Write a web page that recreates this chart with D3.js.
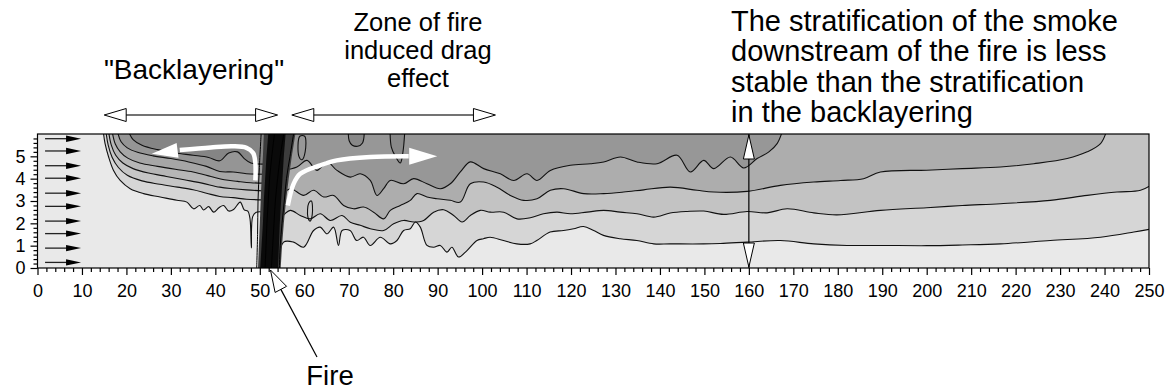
<!DOCTYPE html>
<html>
<head>
<meta charset="utf-8">
<script src="https://cdn.jsdelivr.net/npm/d3@7"></script>
<style>
  body { margin: 0; background: #fff; }
  svg text { font-family: "Liberation Sans", Arial, sans-serif; fill: #000; }
</style>
</head>
<body>
<div id="chart"></div>
<script>
// ---- data (x = distance, y = height) ----

// inflow arrows on the left (heights)
const inflowY = [0.25, 0.89, 1.54, 2.10, 2.76, 3.35, 4.02, 4.58, 5.24, 5.79];

// backlayering contours, outer to inner
const l1 = [[14.8,6.1],[15.2,5.57],[16.0,4.97],[17.1,4.37],[18.6,3.92],[20.85,3.55],[23.85,3.33],[27.6,3.18],[31.35,3.03],[33.6,2.95],[35.1,2.65],[36.5,2.8],[37.35,2.6],[38.5,2.75],[39.6,2.5],[40.8,2.7],[41.85,2.8],[43,2.55],[44.1,2.62],[45.6,2.95],[46.5,2.6],[47.3,2.55],[47.8,2.2],[48.1,0.9],[48.4,2.3],[49.2,2.5],[51,2.5]];
const l2 = [[15.4,6.1],[15.9,5.5],[16.8,4.95],[18.2,4.5],[20.2,4.15],[23.5,3.9],[27.5,3.75],[31.5,3.62],[35,3.5],[38,3.35],[41,3.2],[44,3.15],[47,3.08],[51,3.05]];
const l3 = [[16.0,6.1],[16.6,5.5],[17.6,5.05],[19.2,4.7],[21.5,4.45],[25,4.25],[29,4.1],[33,3.95],[37,3.8],[41,3.62],[44,3.55],[47,3.5],[51,3.45]];
const l4 = [[16.8,6.1],[17.5,5.55],[18.6,5.2],[20.3,4.92],[23,4.7],[27,4.55],[31,4.42],[35,4.3],[39,4.1],[42,3.95],[45,3.88],[48,3.82],[51,3.8]];
const l5 = [[18,6.1],[18.8,5.65],[20.2,5.38],[22.5,5.18],[26,5.02],[30,4.9],[34,4.75],[38,4.55],[41,4.32],[44,4.3],[47,4.22],[51,4.2]];
const l6 = [[20.5,6.1],[21.5,5.75],[23.5,5.5],[27,5.3],[31,5.15],[35,5.05],[38.5,4.95],[41,4.8],[43,5.15],[45,5.2],[46.5,4.9],[48,4.7],[51,4.65]];

// downstream contours, bottom to top
const b1 = [[54.2,0.19],[55.35,1.16],[57.6,1.16],[59.85,0.93],[62.1,1.68],[63.6,1.83],[65.1,1.53],[66.6,1.83],[67.7,1.01],[68.5,1.68],[70.3,1.68],[71.8,1.23],[73.3,1.38],[74.85,1.01],[77.1,1.38],[79.35,1.08],[80.85,1.23],[82.35,1.68],[83.85,1.76],[85.0,2.06],[86.1,1.83],[87.6,1.01],[89.1,0.93],[90.6,1.01],[92.1,0.71],[93.2,0.93],[94.7,0.49],[96.6,0.78],[98.85,1.23],[100.3,1.31],[101.8,1.38],[104.8,1.23],[107.8,1.08],[110.8,1.08],[112.3,1.23],[115.3,1.61],[118.3,1.68],[120.6,1.76],[122.8,1.86],[125.1,1.68],[127.3,1.46],[131.1,1.31],[134.8,1.23],[138.6,1.08],[142.3,1.08],[149.8,1.08],[153.6,1.1],[159.6,1.16],[167.1,1.23],[174.6,1.08],[182.1,1.01],[189.6,1.01],[200,1.0],[208,1.03],[216.6,1.08],[227.8,1.23],[239.1,1.38],[246.6,1.61],[250.5,1.75]];
const b2 = [[54.6,2.2],[56.85,2.58],[59.1,2.35],[61.35,2.2],[63.6,2.43],[65.85,2.13],[68.5,2.35],[70.35,2.05],[72.6,1.91],[74.85,1.76],[77.85,1.68],[80.1,1.98],[82.35,2.13],[84.6,2.06],[86.85,2.13],[89.1,2.5],[91.35,2.61],[93.6,2.35],[95.5,2.06],[97.35,2.35],[99.6,2.58],[101.85,2.5],[104.85,2.5],[107.85,2.2],[110.85,2.25],[113.8,2.43],[116.85,2.5],[119.85,2.43],[123.6,2.5],[127.35,2.58],[131.1,2.5],[134.85,2.43],[138.6,2.28],[142.3,2.46],[146.1,2.53],[149.85,2.55],[154.3,2.4],[159.6,2.53],[164.1,2.47],[168.6,2.65],[174.6,2.47],[179.8,2.38],[189.6,2.58],[200,2.7],[208,2.8],[216.6,2.88],[227.8,3.03],[236.1,3.25],[242.8,3.4],[248.1,3.48],[250.5,3.72]];
const b3 = [[54.6,3.18],[56.85,3.55],[59.85,3.25],[62.1,3.48],[64.35,3.18],[66.6,3.25],[68.85,2.8],[71.1,2.65],[73.35,2.73],[75.6,2.5],[77.85,2.2],[79.35,2.58],[81.6,2.8],[83.85,3.03],[85.35,3.33],[87.6,3.18],[89.85,3.1],[92.85,3.03],[95.1,2.95],[97.35,3.77],[100.35,3.85],[103.35,3.62],[106.35,3.25],[109.35,3.03],[112.35,3.1],[115.35,3.48],[118.35,3.55],[122.85,3.33],[127.35,3.33],[131.85,3.4],[136.35,3.5],[142.35,3.62],[148.35,3.48],[152.1,3.4],[159.6,3.43],[167.1,3.7],[174.6,3.85],[180.6,3.92],[185.8,4.0],[189.6,4.3],[200,4.38],[208,4.45],[216.6,4.52],[224.1,4.67],[231.6,4.9],[236.1,5.2],[239.1,5.57],[240.4,6.1]];
const b4 = [[55.35,4.37],[58.35,4.52],[60.6,4.82],[62.85,4.37],[65.1,4.75],[67.35,4.37],[70.35,4.07],[72.6,4.22],[74.85,3.92],[76.35,3.25],[77.85,3.55],[79.35,3.92],[82.35,3.77],[84.6,4.0],[87.6,3.77],[90.6,3.55],[92.85,3.77],[95.1,4.3],[97.35,4.75],[100.35,4.45],[104.1,4.22],[107.1,3.92],[110.1,4.22],[112.35,3.92],[115.35,4.37],[119.85,4.6],[124.35,4.67],[127.35,4.75],[131.1,4.97],[134.85,4.75],[139.35,4.67],[143.85,5.05],[146.85,4.3],[149.85,4.82],[152.1,4.45],[155.85,4.97],[158.85,4.48],[161.85,4.9],[164.5,5.2],[166.35,5.57],[167.5,6.1]];

// small darker pockets hanging from the ceiling
const pocket1 = [[69.9,6.1],[70.1,5.7],[70.8,5.5],[72,5.45],[73.1,5.6],[73.5,6.1]];
const pocket2 = [[79.3,6.1],[79.6,5.4],[80.5,5.0],[81.6,4.7],[82.2,5.2],[82.6,6.1]];
// small closed contours next to the plume
const loop1 = [[58.8,5.0],[59.5,4.85],[60.2,5.2],[60.1,5.9],[59.0,5.9]];
const loop2 = [[60.8,2.3],[61.3,2.1],[61.8,2.4],[61.6,3.0],[61.0,2.9]];

// fire plume edges and strands
const plumeLeft = [[49.6,0],[49.8,1],[50,2],[50.2,3],[50.4,4],[50.7,5],[50.9,6]];
const plumeRight = [[54.7,0],[55,1],[55.4,2],[55.9,3],[56.5,4],[57.2,5],[58,6]];
const coreLeft = [[50.1,0],[50.4,1],[50.7,2],[50.9,3],[51.2,4],[51.5,5],[51.9,6]];
const coreRight = [[54.1,0],[54.3,1],[54.5,2],[54.8,3],[55.1,4],[55.4,5],[55.8,6]];
const strands = [
  [[49.3,0],[49.5,1.5],[49.6,3],[49.9,4.5],[50.3,6]],
  [[51.2,0],[51.4,1],[51.6,2],[51.9,3],[52.2,4],[52.7,5],[53.3,6]],
  [[52.6,0],[52.9,1],[53.2,2],[53.5,3],[54,4],[54.6,5],[55.4,6]],
  [[54.4,0],[54.6,1],[55,2],[55.5,3],[56,4],[56.8,5],[57.6,6]]
];

// white flow arrows
const backFlow = [[49,3.92],[49,4.7],[48.5,5.15],[47,5.38],[44,5.45],[39,5.4],[32,5.28]];
const backFlowTip = [25.7,5.12];
const downFlow = [[56.3,2.8],[57.6,3.77],[59.1,4.22],[63.6,4.6],[67.3,4.82],[74.85,4.97],[83.5,5.0]];
const downFlowTip = [89.9,5.0];

// annotation spans (x)
const backSpan = [15, 54];
const dragSpan = [57.2, 103];
const stratX = 160;
const fireX = 52.4;

const xMajor = d3.range(0, 251, 10);
const xMinor = d3.range(0, 251, 2).filter(v => v % 10 !== 0);
const yMajor = [0, 1, 2, 3, 4, 5];
const yMinor = d3.range(0, 30).map(i => i / 5).filter(v => v % 1 !== 0);

// ---- drawing ----
const W = 1170, H = 390;
const svg = d3.select("#chart").append("svg").attr("width", W).attr("height", H);

const x = d3.scaleLinear().domain([0, 250]).range([37.5, 1149]);
const y = d3.scaleLinear().domain([0, 6]).range([268, 134]);

svg.append("defs").append("clipPath").attr("id", "clip")
  .append("rect")
  .attr("x", x(0)).attr("y", y(6))
  .attr("width", x(250) - x(0)).attr("height", y(0) - y(6));

const plot = svg.append("g").attr("clip-path", "url(#clip)");

plot.append("rect")
  .attr("x", x(0)).attr("y", y(6))
  .attr("width", x(250) - x(0)).attr("height", y(0) - y(6))
  .attr("fill", "#e9e9e9");

const above = d3.area()
  .x(d => x(d[0])).y0(y(6.3)).y1(d => y(d[1]))
  .curve(d3.curveCatmullRom);
const line = d3.line()
  .x(d => x(d[0])).y(d => y(d[1]))
  .curve(d3.curveCatmullRom);
const closed = d3.line()
  .x(d => x(d[0])).y(d => y(d[1]))
  .curve(d3.curveCatmullRomClosed);

const backLines = [l1, l2, l3, l4, l5, l6];
const backFills = ["#d6d6d6", "#c6c6c6", "#b6b6b6", "#a6a6a6", "#959595", "#858585"];
const downLines = [b1, b2, b3, b4];
const downFills = ["#d6d6d6", "#c3c3c3", "#adadad", "#979797"];

backLines.forEach((c, i) => plot.append("path").attr("d", above(c)).attr("fill", backFills[i]));
downLines.forEach((c, i) => plot.append("path").attr("d", above(c)).attr("fill", downFills[i]));
[pocket1, pocket2].forEach(c => plot.append("path").attr("d", above(c)).attr("fill", "#888"));
plot.append("path").attr("d", closed(loop2)).attr("fill", "#c9c9c9");

[...backLines, ...downLines, pocket1, pocket2].forEach(c =>
  plot.append("path").attr("d", line(c))
    .attr("fill", "none").attr("stroke", "#111").attr("stroke-width", 1.1));
[loop1, loop2].forEach(c =>
  plot.append("path").attr("d", closed(c))
    .attr("fill", "none").attr("stroke", "#111").attr("stroke-width", 1.1));

// plume
const band = (l, r) => {
  const pts = l.concat(r.slice().reverse());
  return d3.line().x(d => x(d[0])).y(d => y(d[1])).curve(d3.curveLinearClosed)(pts);
};
plot.append("path").attr("d", band(plumeLeft, plumeRight)).attr("fill", "#3c3c3c");
plot.append("path").attr("d", band(coreLeft, coreRight)).attr("fill", "#0a0a0a");
strands.forEach(s => plot.append("path").attr("d", line(s))
  .attr("fill", "none").attr("stroke", "#000").attr("stroke-width", 1));

// arrowhead helper (pixel coords)
function head(g, tip, from, len, half, fill, stroke) {
  const dx = tip[0] - from[0], dy = tip[1] - from[1];
  const d = Math.hypot(dx, dy), ux = dx / d, uy = dy / d;
  const bx = tip[0] - ux * len, by = tip[1] - uy * len;
  const pts = [tip, [bx - uy * half, by + ux * half], [bx + uy * half, by - ux * half]];
  g.append("polygon").attr("points", pts.map(p => p.join(",")).join(" "))
    .attr("fill", fill).attr("stroke", stroke || "none").attr("stroke-width", 1);
  return [bx, by];
}
const P = d => [x(d[0]), y(d[1])];

// white flow arrows
plot.append("path").attr("d", line(backFlow))
  .attr("fill", "none").attr("stroke", "#fff").attr("stroke-width", 4.5);
head(plot, P(backFlowTip), P(backFlow[backFlow.length - 1]), 26, 7.5, "#fff");
plot.append("path").attr("d", line(downFlow))
  .attr("fill", "none").attr("stroke", "#fff").attr("stroke-width", 4.5);
head(plot, P(downFlowTip), P(downFlow[downFlow.length - 1]), 28, 8.5, "#fff");

// inflow arrows
inflowY.forEach(v => {
  const a = P([1.7, v]), b = P([9.8, v]);
  svg.append("line").attr("x1", a[0]).attr("y1", a[1]).attr("x2", b[0] - 10).attr("y2", b[1])
    .attr("stroke", "#222").attr("stroke-width", 1.3);
  head(svg, b, a, 15, 3.2, "#000");
});

// vertical double arrow at x=160
{
  const top = P([stratX, 6]), bot = P([stratX, 0]);
  svg.append("line").attr("x1", top[0]).attr("y1", top[1]).attr("x2", bot[0]).attr("y2", bot[1])
    .attr("stroke", "#000").attr("stroke-width", 1.2);
  head(svg, [top[0], top[1] + 1], [bot[0], bot[1]], 24, 5.5, "#fff", "#000");
  head(svg, [bot[0], bot[1] - 1], [top[0], top[1]], 24, 5.5, "#fff", "#000");
}

// plot frame
svg.append("rect")
  .attr("x", x(0)).attr("y", y(6))
  .attr("width", x(250) - x(0)).attr("height", y(0) - y(6))
  .attr("fill", "none").attr("stroke", "#000").attr("stroke-width", 1.2);

// axes
const fontSize = 18;
svg.append("g").attr("transform", `translate(0,${y(0)})`)
  .call(d3.axisBottom(x).tickValues(xMajor).tickSize(7).tickPadding(9).tickFormat(d3.format("d")));
svg.append("g").attr("transform", `translate(0,${y(0)})`)
  .call(d3.axisBottom(x).tickValues(xMinor).tickSize(4).tickFormat(""));
svg.append("g").attr("transform", `translate(${x(0)},0)`)
  .call(d3.axisLeft(y).tickValues(yMajor).tickSize(7).tickPadding(5).tickFormat(d3.format("d")));
svg.append("g").attr("transform", `translate(${x(0)},0)`)
  .call(d3.axisLeft(y).tickValues(yMinor).tickSize(4).tickFormat(""));
svg.selectAll(".domain").remove();
svg.selectAll(".tick line").attr("stroke", "#000").attr("stroke-width", 1.2);
svg.selectAll(".tick text").attr("font-size", fontSize)
  .style("font-family", '"Liberation Sans", Arial, sans-serif').attr("fill", "#000");

// annotations
function txt(s, px, py, size, anchor) {
  svg.append("text").attr("x", px).attr("y", py).attr("font-size", size)
    .attr("text-anchor", anchor || "middle").text(s);
}
txt("\"Backlayering\"", 194, 79, 28);
txt("Zone of fire", 418, 31, 25.5);
txt("induced drag", 418, 59, 25.5);
txt("effect", 418, 87, 25.5);
["The stratification of the smoke",
 "downstream of the fire is less",
 "stable than the stratification",
 "in the backlayering"].forEach((s, i) => txt(s, 731, 30.5 + i * 30.5, 29, "start"));
txt("Fire", 330, 385, 27.5);

// horizontal double arrows above the plot
function dbl(span, py) {
  const a = [x(span[0]), py], b = [x(span[1]), py];
  svg.append("line").attr("x1", a[0] + 20).attr("y1", py).attr("x2", b[0] - 20).attr("y2", py)
    .attr("stroke", "#444").attr("stroke-width", 1.6);
  head(svg, a, b, 22, 6.5, "#fff", "#000");
  head(svg, b, a, 22, 6.5, "#fff", "#000");
}
dbl(backSpan, 115);
dbl(dragSpan, 115);

// fire pointer
{
  const tip = [x(fireX), y(0) + 2];
  const tail = [317, 357];
  const base = head(svg, tip, tail, 22, 6.5, "#fff", "#000");
  svg.append("line").attr("x1", base[0]).attr("y1", base[1]).attr("x2", tail[0]).attr("y2", tail[1])
    .attr("stroke", "#000").attr("stroke-width", 1.2);
}
</script>
</body>
</html>
